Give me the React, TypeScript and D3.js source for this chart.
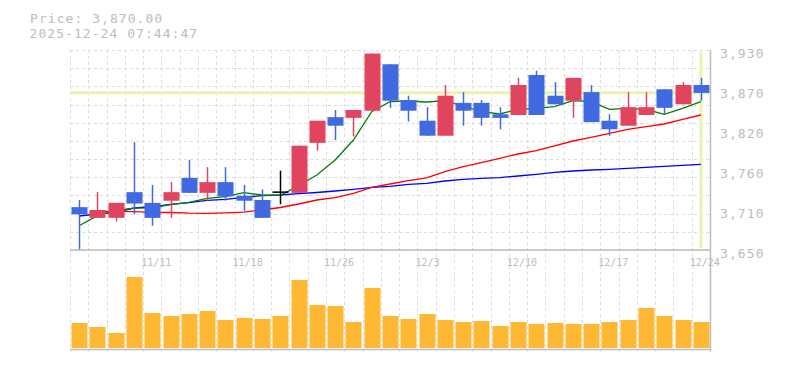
import React from "react";
import * as d3 from "d3";

// trading days shown (35 bars)
const dates = [
  "11/5", "11/6", "11/7", "11/10", "11/11", "11/12", "11/13", "11/14", "11/17", "11/18",
  "11/19", "11/20", "11/21", "11/25", "11/26", "11/27", "11/28", "12/1", "12/2", "12/3",
  "12/4", "12/5", "12/8", "12/9", "12/10", "12/11", "12/12", "12/15", "12/16", "12/17",
  "12/18", "12/19", "12/22", "12/23", "12/24",
];

const opens = [
  3710, 3695, 3695, 3731, 3716, 3719, 3751, 3730, 3745, 3726,
  3720, 3731, 3730, 3800, 3836, 3835, 3845, 3910, 3860, 3831,
  3810, 3856, 3856, 3840, 3839, 3895, 3866, 3859, 3871, 3831,
  3824, 3839, 3875, 3854, 3881,
];
const highs = [
  3720, 3731, 3716, 3801, 3741, 3745, 3776, 3766, 3766, 3741,
  3735, 3761, 3796, 3831, 3846, 3846, 3925, 3910, 3866, 3850,
  3881, 3871, 3860, 3850, 3891, 3901, 3885, 3891, 3881, 3840,
  3871, 3871, 3875, 3885, 3891,
];
const lows = [
  3650, 3695, 3690, 3700, 3684, 3695, 3730, 3719, 3719, 3705,
  3695, 3714, 3730, 3789, 3804, 3809, 3845, 3849, 3830, 3810,
  3810, 3824, 3824, 3819, 3839, 3839, 3854, 3835, 3829, 3810,
  3824, 3839, 3840, 3854, 3859,
];
const closes = [
  3700, 3706, 3716, 3715, 3695, 3731, 3730, 3745, 3725, 3719,
  3695, 3731, 3796, 3831, 3824, 3846, 3925, 3859, 3845, 3810,
  3866, 3845, 3835, 3835, 3881, 3839, 3854, 3891, 3829, 3819,
  3850, 3850, 3849, 3881, 3870,
];

const volumes = [
  25000, 21000, 15000, 71000, 35000, 32000, 34000, 37000, 28000, 30000,
  29000, 32000, 68000, 43000, 42000, 26000, 60000, 32000, 29000, 34000,
  28000, 26000, 27000, 22000, 26000, 24000, 25000, 24000, 24000, 26000,
  28000, 40000, 32000, 28000, 26000,
];

// moving averages (short / mid / long)
const maShort = [
  3684, 3698, 3705.5, 3708.5, 3709, 3713.4, 3716.7, 3722.4, 3724.7, 3730.3,
  3727, 3726.5, 3740, 3755, 3776, 3804, 3843.7, 3857.6, 3858.6, 3857.2,
  3859, 3851.6, 3843.7, 3840.4, 3847, 3848.3, 3850.7, 3859, 3857.7, 3847,
  3848.3, 3847, 3840, 3848.3, 3857.6,
];
const maMid = [
  null, 3704, 3704, 3703.7, 3702.7, 3702.5, 3701.5, 3701.3, 3702, 3703,
  3706, 3709.5, 3714.4, 3720, 3723.3, 3729.3, 3737.8, 3742.4, 3747, 3751,
  3759.7, 3766.7, 3772.3, 3778.3, 3784.4, 3789, 3795.8, 3802.6, 3807.7, 3813.3,
  3819, 3822.6, 3826.4, 3833, 3839,
];
const maLong = [
  3697.6, 3700.4, 3702.7, 3708.8, 3710.7, 3714, 3716.3, 3719.5, 3721, 3723.7,
  3726, 3727, 3728.9, 3730.5, 3732.6, 3735, 3737.8, 3739.2, 3742, 3743.3,
  3746.6, 3749, 3750.4, 3751.3, 3753.6, 3756, 3758.8, 3760.6, 3762, 3763,
  3764.4, 3765.8, 3767.2, 3768.6, 3770,
];

const xTickLabels = ["11/11", "11/18", "11/26", "12/3", "12/10", "12/17", "12/24"];
const yTickValues = [3650, 3706, 3762, 3818, 3874, 3930];

const lastPrice = 3870;
const titleLines = ["Price: 3,870.00", "2025-12-24 07:44:47"];

const UP = "#e0445f";
const DOWN = "#4169e1";
const VOL = "#ffb833";
const GRID = "#dcdcdc";
const FRAME = "#bdbdbd";
const TEXT = "#bcbcbc";
const CROSS = "#e6f5a8";
const MONO = "'DejaVu Sans Mono', monospace";

export default function App() {
  const width = 785;
  const height = 370;
  const left = 70;
  const right = 710;
  const top = 50;
  const priceBottom = 250;
  const volBottom = 349.5;
  const bodyW = 16;

  const x = d3.scaleBand<string>().domain(dates).range([left, right]);
  const y = d3.scaleLinear().domain([3650, 3930]).range([priceBottom, top]);
  const yVol = d3.scaleLinear().domain([0, 100000]).range([348, 248]);
  const bw = x.bandwidth();
  const cx = (d: string) => (x(d) as number) + bw / 2;

  const maLine = (vals: (number | null)[]) =>
    d3
      .line<number | null>()
      .defined((v) => v != null)
      .x((_, i) => cx(dates[i]))
      .y((v) => y(v as number))(vals) || "";

  const fmtY = (v: number) => d3.format(",")(Math.round(v / 10) * 10);
  const gridValues = d3.range(12).map((k) => 3650 + (k * 280) / 11);
  const lastX = cx(dates[dates.length - 1]);

  return (
    <svg
      width={width}
      height={height}
      style={{ position: "absolute", left: 0, top: 0, background: "#fff" }}
    >
      {/* title */}
      <g fontFamily={MONO} fill={TEXT} fontSize={13} letterSpacing={1.05}>
        <text x={30} y={23}>
          {titleLines[0]}
        </text>
        <text x={29.5} y={38.3}>
          {titleLines[1]}
        </text>
      </g>

      {/* grid */}
      <g stroke={GRID} strokeWidth={1} strokeDasharray="3,3">
        {gridValues.map((v, i) => (
          <line key={"h" + i} x1={left} x2={right} y1={Math.round(y(v)) + 0.5} y2={Math.round(y(v)) + 0.5} />
        ))}
        {dates.map((d) => (
          <line
            key={"v" + d}
            x1={Math.round(x(d) as number) + 0.5}
            x2={Math.round(x(d) as number) + 0.5}
            y1={top}
            y2={volBottom + 2}
          />
        ))}
      </g>

      {/* x labels */}
      <g fontFamily={MONO} fontSize={10} fill={TEXT}>
        {xTickLabels.map((d) => (
          <text key={d} x={(x(d) as number) - 2} y={266}>
            {d}
          </text>
        ))}
      </g>

      {/* current price crosshair */}
      <line x1={left} x2={right} y1={y(lastPrice)} y2={y(lastPrice)} stroke={CROSS} strokeWidth={3} />
      <line x1={lastX} x2={lastX} y1={top + 1.5} y2={priceBottom - 1.5} stroke={CROSS} strokeWidth={3} />

      {/* moving averages */}
      <g fill="none" strokeWidth={1.3}>
        <path d={maLine(maLong)} stroke="#0000ff" />
        <path d={maLine(maMid)} stroke="#ff0000" />
        <path d={maLine(maShort)} stroke="#008000" />
      </g>

      {/* candles */}
      <g>
        {dates.map((d, i) => {
          const o = opens[i];
          const c = closes[i];
          const color = c > o ? UP : c < o ? DOWN : "#000";
          const xc = Math.round(cx(d)) + 0.5;
          const yTop = y(Math.max(o, c));
          const yBot = y(Math.min(o, c));
          return (
            <g key={d}>
              <line x1={xc} x2={xc} y1={y(highs[i])} y2={y(lows[i])} stroke={color} strokeWidth={1.5} />
              {c === o ? (
                <line x1={xc - bodyW / 2} x2={xc + bodyW / 2} y1={yTop} y2={yTop} stroke={color} strokeWidth={1.5} />
              ) : (
                <rect x={xc - bodyW / 2} y={yTop} width={bodyW} height={Math.max(1, yBot - yTop)} fill={color} />
              )}
            </g>
          );
        })}
      </g>

      {/* volume */}
      <g fill={VOL}>
        {dates.map((d, i) => (
          <rect
            key={d}
            x={Math.round(cx(d)) + 0.5 - bodyW / 2}
            y={yVol(volumes[i])}
            width={bodyW}
            height={yVol(0) - yVol(volumes[i])}
          />
        ))}
      </g>

      {/* frame */}
      <g stroke={FRAME} strokeWidth={1.5} fill="none">
        <line x1={left} x2={right} y1={priceBottom} y2={priceBottom} />
        <line x1={left} x2={right} y1={volBottom} y2={volBottom} />
        <line x1={right + 0.5} x2={right + 0.5} y1={top} y2={volBottom + 2} />
      </g>

      {/* y labels */}
      <g fontFamily={MONO} fontSize={13} fill={TEXT} letterSpacing={1.1}>
        {yTickValues.map((v) => (
          <text key={v} x={720} y={y(v) + 7.7}>
            {fmtY(v)}
          </text>
        ))}
      </g>
    </svg>
  );
}
